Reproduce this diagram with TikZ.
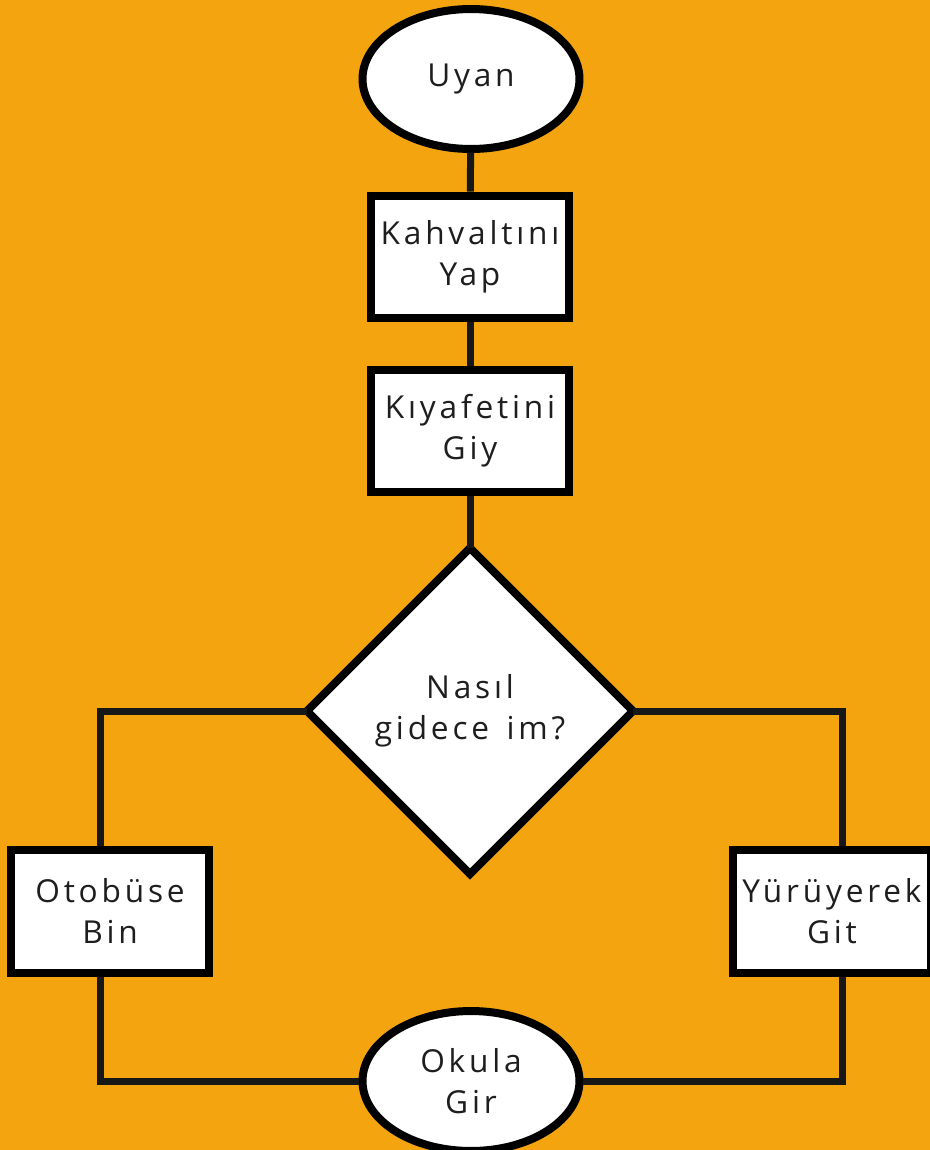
\documentclass[tikz,border=0pt]{standalone}
\usepackage{fontspec}
\setmainfont{Open Sans}[LetterSpace=12]
\usetikzlibrary{shapes.geometric}
\definecolor{turuncu}{RGB}{243,164,14}
\definecolor{yazi}{RGB}{30,30,30}
\definecolor{hat}{RGB}{22,24,23}

\begin{document}
\begin{tikzpicture}[x=0.02cm,y=-0.02cm]
\tikzset{every node/.style={fill=white,draw=black,line width=0.16cm,text=yazi,align=center,
  inner sep=0pt,font=\fontsize{18}{23.5}\selectfont}}
\tikzset{uc/.style={ellipse,minimum width=4.34cm,minimum height=2.8cm}}
\tikzset{kutu/.style={rectangle,minimum width=3.98cm,minimum height=2.46cm}}
\tikzset{karar/.style={diamond,aspect=1,minimum width=6.52cm,minimum height=6.52cm,outer sep=0pt}}
\tikzset{hat/.style={draw=hat,line width=0.14cm}}
\useasboundingbox (0,0) rectangle (930,1150);
\fill [turuncu] (0,0) rectangle (930,1150);
\node [uc] (uyan) at (471,79) {Uyan};
\node [kutu] (kahvalti) at (470,257) {Kahvaltını\\Yap};
\node [kutu] (kiyafet) at (470,431) {Kıyafetini\\Giy};
\node [karar] (nasil) at (470,711) {Nasıl\\gidece\hspace{0.55em}im?};
\node [kutu] (otobus) at (110,911) {Otobüse\\Bin};
\node [kutu] (yuru) at (832,911) {Yürüyerek\\Git};
\node [uc] (okul) at (471,1081) {Okula\\Gir};
\coordinate (sol) at (100,711);
\coordinate (sag) at (842,711);
% akis
\draw [hat] (uyan) -- (kahvalti);
\draw [hat] (kahvalti) -- (kiyafet);
\draw [hat] (kiyafet) -- (nasil);
\draw [hat] (nasil.west) -- (sol) -- (sol |- otobus.north);
\draw [hat] (nasil.east) -- (sag) -- (sag |- yuru.north);
\draw [hat] (sol |- otobus.south) |- (okul.west);
\draw [hat] (sag |- yuru.south) |- (okul.east);
\end{tikzpicture}
\end{document}
